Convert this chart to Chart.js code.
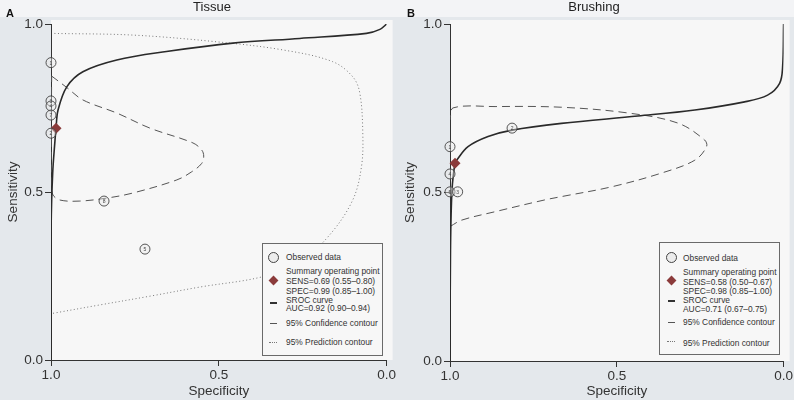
<!DOCTYPE html>
<html>
<head>
<meta charset="utf-8">
<script src="https://cdn.jsdelivr.net/npm/chart.js@4.4.1/dist/chart.umd.min.js"></script>
<style>
  body { margin: 0; width: 794px; height: 400px; background: #e4e8ec; font-family: "Liberation Sans", Arial, sans-serif; overflow: hidden; }
  .panel { position: absolute; top: 0; width: 397px; height: 400px; background: #e4e8ec; }
  .strip { position: absolute; left: 0; top: 0; width: 397px; height: 17px; background: #f3f4f6; }
  .title { position: absolute; top: 0; font-size: 13px; color: #222; line-height: 14px; transform: translateX(-50%); }
  .letter { position: absolute; top: 7px; left: 6px; font-size: 11px; font-weight: bold; color: #111; }
  canvas { position: absolute; left: 0; top: 0; }
  .legend { position: absolute; left: 262px; width: 119px; height: 111px; border: 1px solid #6a6a6a; background: #f7f7f7; }
  .legend .t { position: absolute; left: 23px; font-size: 8.4px; line-height: 10px; color: #333; white-space: nowrap; }
  .sym { position: absolute; }
  .circ { width: 9px; height: 9px; border: 1px solid #444; border-radius: 50%; background: #ececec; }
  .dia { width: 7px; height: 7px; background: #8b3b3b; transform: rotate(45deg); }
  .solid { width: 7px; border-top: 2px solid #333; }
  .dash { width: 7px; border-top: 1px solid #555; }
  .dots { width: 8px; border-top: 1px dotted #777; }
</style>
</head>
<body>
<div class="panel" style="left:0">
  <div class="strip"></div>
  <canvas id="chartA" width="397" height="400"></canvas>
  <div class="title" style="left:212px">Tissue</div>
  <div class="letter">A</div>
  <div class="legend" style="top:243px">
    <div class="sym circ" style="left:5px;top:8px"></div>
    <div class="t" style="top:8px">Observed data</div>
    <div class="sym dia" style="left:7px;top:33px"></div>
    <div class="t" style="top:22px">Summary operating point</div>
    <div class="t" style="top:32px">SENS=0.69 (0.55–0.80)</div>
    <div class="t" style="top:42px">SPEC=0.99 (0.85–1.00)</div>
    <div class="sym solid" style="left:7px;top:58px"></div>
    <div class="t" style="top:51px">SROC curve</div>
    <div class="t" style="top:59px">AUC=0.92 (0.90–0.94)</div>
    <div class="sym dash" style="left:7px;top:79px"></div>
    <div class="t" style="top:74px">95% Confidence contour</div>
    <div class="sym dots" style="left:6px;top:98px"></div>
    <div class="t" style="top:93px">95% Prediction contour</div>
  </div>
</div>
<div class="panel" style="left:397px">
  <div class="strip"></div>
  <canvas id="chartB" width="397" height="400"></canvas>
  <div class="title" style="left:197px">Brushing</div>
  <div class="letter" style="left:10px">B</div>
  <div class="legend" style="top:242px">
    <div class="sym circ" style="left:6px;top:9px"></div>
    <div class="t" style="top:10px">Observed data</div>
    <div class="sym dia" style="left:8px;top:34px"></div>
    <div class="t" style="top:24px">Summary operating point</div>
    <div class="t" style="top:34px">SENS=0.58 (0.50–0.67)</div>
    <div class="t" style="top:43px">SPEC=0.98 (0.85–1.00)</div>
    <div class="sym solid" style="left:8px;top:57px"></div>
    <div class="t" style="top:52px">SROC curve</div>
    <div class="t" style="top:61px">AUC=0.71 (0.67–0.75)</div>
    <div class="sym dash" style="left:8px;top:79px"></div>
    <div class="t" style="top:74px">95% Confidence contour</div>
    <div class="sym dots" style="left:7px;top:98px"></div>
    <div class="t" style="top:95px">95% Prediction contour</div>
  </div>
</div>
<script>
// Panel A (Tissue) - observed studies
const aObsSpec = [1.0, 1.0, 1.0, 1.0, 1.0, 0.842, 0.72];
const aObsSens = [0.885, 0.771, 0.756, 0.729, 0.675, 0.473, 0.33];
const aObsLabel = ['1', '3', '4', '7', '2', '8', '5'];
const aSummary = [0.985, 0.69];

const aSrocSpec = [1.0, 0.9995, 0.995, 0.988, 0.985, 0.979, 0.953, 0.905, 0.804, 0.656, 0.458, 0.259, 0.060, 0.02, 0.0];
const aSrocSens = [0.0, 0.40, 0.556, 0.655, 0.69, 0.744, 0.813, 0.858, 0.893, 0.918, 0.943, 0.957, 0.972, 0.984, 1.0];

const aConfSpec = [0.998, 0.953, 0.905, 0.804, 0.705, 0.577, 0.551, 0.545, 0.551, 0.581, 0.625, 0.756, 0.833, 0.914, 0.973, 0.994, 0.999, 0.999, 0.998];
const aConfSens = [0.845, 0.811, 0.774, 0.735, 0.690, 0.646, 0.625, 0.607, 0.585, 0.560, 0.536, 0.497, 0.482, 0.473, 0.476, 0.491, 0.52, 0.70, 0.845];

const aPredSpec = [0.994, 0.854, 0.705, 0.557, 0.369, 0.259, 0.170, 0.101, 0.075, 0.071, 0.080, 0.101, 0.161, 0.310, 0.506, 0.756, 0.994];
const aPredSens = [0.139, 0.164, 0.19, 0.217, 0.248, 0.292, 0.372, 0.476, 0.575, 0.676, 0.795, 0.843, 0.888, 0.923, 0.947, 0.967, 0.972];

// Panel B (Brushing)
const bObsSpec = [0.814, 1.0, 1.0, 1.0, 0.977];
const bObsSens = [0.691, 0.636, 0.555, 0.502, 0.502];
const bObsLabel = ['2', '1', '4', '5', '3'];
const bSummary = [0.985, 0.587];

const bSrocSpec = [1.0, 0.9985, 0.994, 0.985, 0.980, 0.946, 0.886, 0.814, 0.666, 0.437, 0.266, 0.117, 0.048, 0.012, 0.003, 0.0];
const bSrocSens = [0.0, 0.33, 0.507, 0.588, 0.596, 0.636, 0.666, 0.685, 0.705, 0.727, 0.745, 0.769, 0.789, 0.824, 0.873, 1.0];

const bConfSpec = [1.0, 0.965, 0.865, 0.716, 0.665, 0.515, 0.365, 0.266, 0.231, 0.237, 0.317, 0.467, 0.666, 0.865, 0.991, 1.0];
const bConfSens = [0.399, 0.418, 0.443, 0.478, 0.488, 0.517, 0.558, 0.596, 0.636, 0.656, 0.706, 0.736, 0.753, 0.755, 0.751, 0.715];

const tickFont = { family: '"Liberation Sans", Arial, sans-serif', size: 13.5 };

function pts(xs, ys) {
    return xs.map((x, i) => ({ x: x, y: ys[i] }));
}

// fill plot area background
const plotBg = {
    id: 'plotBg',
    beforeDraw(chart) {
        const a = chart.chartArea;
        const ctx = chart.ctx;
        ctx.save();
        ctx.fillStyle = '#f7f7f7';
        ctx.fillRect(a.left, 20, a.right - a.left + 6, a.bottom - 20);
        ctx.restore();
    }
};

// study numbers inside the circles
const studyLabels = {
    id: 'studyLabels',
    afterDatasetsDraw(chart, args, opts) {
        const meta = chart.getDatasetMeta(0);
        const ctx = chart.ctx;
        ctx.save();
        ctx.font = '5px "Liberation Sans", Arial, sans-serif';
        ctx.fillStyle = '#444';
        ctx.textAlign = 'center';
        ctx.textBaseline = 'middle';
        meta.data.forEach((p, i) => {
            ctx.fillText(opts.labels[i], p.x, p.y + 0.5);
        });
        ctx.restore();
    }
};

function makeChart(id, obsSpec, obsSens, labels, summary, srocSpec, srocSens, confSpec, confSens, predSpec, predSens, yWidth, xHeight) {
    const ctx = document.getElementById(id).getContext('2d');
    const datasets = [
        {
            data: pts(obsSpec, obsSens),
            pointStyle: 'circle',
            pointRadius: 5,
            borderColor: '#444',
            borderWidth: 0.9,
            backgroundColor: 'rgba(236,236,236,0.4)',
            showLine: false,
            clip: false,
            order: 0
        },
        {
            data: [{ x: summary[0], y: summary[1] }],
            pointStyle: 'rectRot',
            pointRadius: 5.5,
            borderWidth: 0,
            backgroundColor: '#8b3b3b',
            showLine: false,
            clip: false,
            order: 0
        },
        {
            data: pts(srocSpec, srocSens),
            showLine: true,
            borderColor: '#2a2a2a',
            borderWidth: 1.6,
            pointRadius: 0,
            tension: 0.35,
            order: 1
        },
        {
            data: pts(confSpec, confSens),
            showLine: true,
            borderColor: '#555',
            borderWidth: 1,
            borderDash: [8, 5],
            pointRadius: 0,
            tension: 0.35,
            order: 2
        }
    ];
    if (predSpec) {
        datasets.push({
            data: pts(predSpec, predSens),
            showLine: true,
            borderColor: '#777',
            borderWidth: 1,
            borderDash: [1, 2.5],
            pointRadius: 0,
            tension: 0.35,
            order: 3
        });
    }
    return new Chart(ctx, {
        type: 'scatter',
        data: { datasets: datasets },
        plugins: [plotBg, studyLabels],
        options: {
            responsive: false,
            animation: false,
            layout: { padding: { top: 24, right: 10, left: 0, bottom: 0 } },
            plugins: {
                legend: { display: false },
                tooltip: { enabled: false },
                studyLabels: { labels: labels }
            },
            scales: {
                x: {
                    type: 'linear',
                    reverse: true,
                    min: 0,
                    max: 1,
                    ticks: {
                        stepSize: 0.5,
                        color: '#333',
                        font: tickFont,
                        padding: 1,
                        maxRotation: 0,
                        callback: v => v.toFixed(1)
                    },
                    grid: { drawOnChartArea: false, drawTicks: true, tickLength: 6, color: '#333' },
                    border: { display: true, color: '#333', width: 1 },
                    title: { display: true, text: 'Specificity', color: '#333', font: tickFont, padding: { top: 0, bottom: 1 } },
                    afterFit: s => { s.height = xHeight; }
                },
                y: {
                    type: 'linear',
                    min: 0,
                    max: 1,
                    ticks: {
                        stepSize: 0.5,
                        color: '#333',
                        font: tickFont,
                        padding: 2,
                        callback: v => v.toFixed(1)
                    },
                    grid: { drawOnChartArea: false, drawTicks: true, tickLength: 6, color: '#333' },
                    border: { display: true, color: '#333', width: 1 },
                    title: { display: true, text: 'Sensitivity', color: '#333', font: tickFont, padding: { top: 5, bottom: 0 } },
                    afterFit: s => { s.width = yWidth; }
                }
            }
        }
    });
}

makeChart('chartA', aObsSpec, aObsSens, aObsLabel, aSummary, aSrocSpec, aSrocSens, aConfSpec, aConfSens, aPredSpec, aPredSens, 51, 40);
makeChart('chartB', bObsSpec, bObsSens, bObsLabel, bSummary, bSrocSpec, bSrocSens, bConfSpec, bConfSens, null, null, 53, 39);
</script>
</body>
</html>
